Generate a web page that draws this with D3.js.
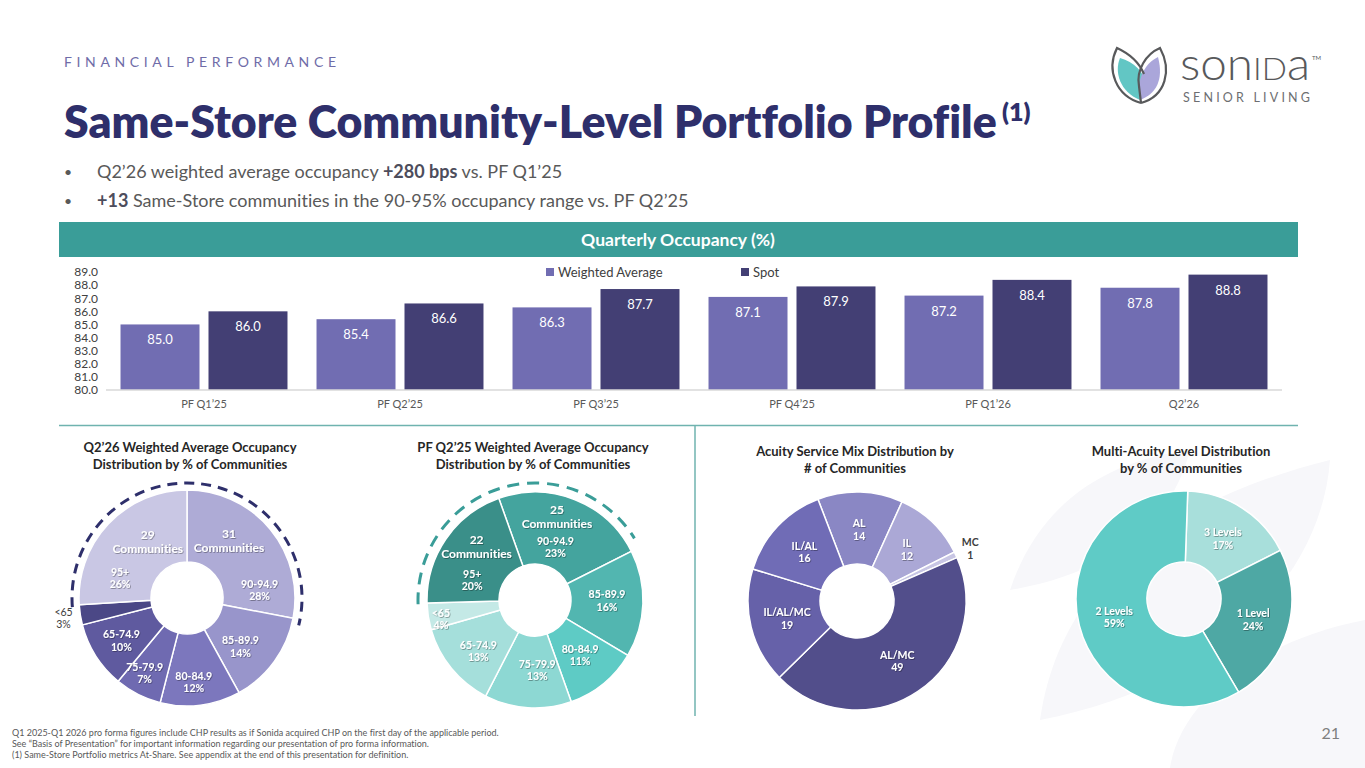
<!DOCTYPE html>
<html><head><meta charset="utf-8">
<script src="https://cdn.jsdelivr.net/npm/d3@7/dist/d3.min.js"></script>
<style>
body{margin:0;background:#fff;}
svg{display:block;font-family:Lato,"Open Sans",sans-serif;font-variant-ligatures:none;}
</style>
</head><body>
<svg id="c" width="1365" height="768"></svg>
<script>
// ---------------- DATA ----------------
const quarters = ["PF Q1’25","PF Q2’25","PF Q3’25","PF Q4’25","PF Q1’26","Q2’26"];
const seriesNames = ["Weighted Average","Spot"];
const weightedAvg = [85.0,85.4,86.3,87.1,87.2,87.8];
const spotOcc = [86.0,86.6,87.7,87.9,88.4,88.8];
const yTicks = [80,81,82,83,84,85,86,87,88,89];

const occRanges = ["90-94.9","85-89.9","80-84.9","75-79.9","65-74.9","<65","95+"];
const q226Pct = [28,14,12,7,10,3,26];
const q226Communities = {"90-94.9":31,"95+":29};
const pfq225Pct = [23,16,11,13,13,4,20];
const pfq225Communities = {"90-94.9":25,"95+":22};

const acuityTypes = ["AL","IL","MC","AL/MC","IL/AL/MC","IL/AL"];
const acuityCounts = [14,12,1,49,19,16];

const levelNames = ["3 Levels","1 Level","2 Levels"];
const levelPct = [17,24,59];

const footnotes = [
  "Q1 2025-Q1 2026 pro forma figures include CHP results as if Sonida acquired CHP on the first day of the applicable period.",
  "See “Basis of Presentation” for important information regarding our presentation of pro forma information.",
  "(1) Same-Store Portfolio metrics At-Share. See appendix at the end of this presentation for definition."
];

// ---------------- SETUP ----------------
const svg = d3.select("#c");
const NAVY = "#2e2f6b", TEAL = "#3a9d98";
const defs = svg.append("defs");
const f = defs.append("filter").attr("id","sh").attr("x","-20%").attr("y","-20%").attr("width","140%").attr("height","140%");
f.append("feDropShadow").attr("dx",0.7).attr("dy",0.7).attr("stdDeviation",0.5).attr("flood-color","#000").attr("flood-opacity",0.45);

// faint watermark leaves
const wm = svg.append("g").attr("fill","#f7f7fa");
wm.append("path").attr("d","M1040,720 C1060,580 1170,500 1330,460 C1320,590 1200,690 1040,720 Z");
wm.append("path").attr("d","M1170,768 C1180,700 1260,640 1365,620 L1365,768 Z");
wm.append("path").attr("d","M1010,590 C1040,500 1110,460 1190,450 C1170,530 1100,575 1010,590 Z");

// ---------------- HEADER ----------------
const kicker = svg.append("text").attr("x",64).attr("y",67).attr("fill","#6f6ca8")
  .style("font-size","14px").text("FINANCIAL PERFORMANCE");
{
  const n = kicker.text().length;
  const w0 = kicker.node().getComputedTextLength();
  kicker.style("letter-spacing", ((272 - w0)/(n-1)) + "px");
}
const title = svg.append("text").attr("x",64).attr("y",138).attr("fill",NAVY)
  .style("font-weight",800).style("font-size","44px").text("Same-Store Community-Level Portfolio Profile");
{
  const w = title.node().getComputedTextLength();
  title.style("font-size", (44*933/w) + "px");
}
svg.append("text").attr("x",1002).attr("y",121).attr("fill",NAVY).style("font-weight",800).style("font-size","25px").text("(1)");

const bullets = [
  [["Q2’26 weighted average occupancy ",false],["+280 bps",true],[" vs. PF Q1’25",false]],
  [["+13",true],[" Same-Store communities in the 90-95% occupancy range vs. PF Q2’25",false]]
];
bullets.forEach((parts,i)=>{
  const y = 178 + i*29;
  svg.append("text").attr("x",64).attr("y",y-1).attr("fill","#595959").style("font-size","14px").text("•");
  const t = svg.append("text").attr("x",97).attr("y",y).attr("fill","#595959").style("font-size","18px");
  parts.forEach(p=>t.append("tspan").text(p[0]).style("font-weight",p[1]?700:400).attr("fill",p[1]?"#4d4d5c":"#595959"));
});

// Logo
const logo = svg.append("g");
logo.append("path").attr("d","M1140,100 C1120,92 1114,72 1120,58 C1134,62 1144,72 1146,84 Z").attr("fill","#62c6c4");
logo.append("path").attr("d","M1140,100 C1136,80 1144,64 1158,57 C1164,80 1156,94 1140,100 Z").attr("fill","#aaa6da");
logo.append("path").attr("d","M1141,103 C1116,96 1106,70 1117,48 C1130,54 1139,62 1144,74").attr("fill","none").attr("stroke","#58595b").attr("stroke-width",2.2);
logo.append("path").attr("d","M1141,103 C1166,96 1172,70 1160,48 C1146,54 1136,70 1139,86 L1141,103").attr("fill","none").attr("stroke","#58595b").attr("stroke-width",2.2);
const lt = logo.append("text").attr("x",1180).attr("y",80).attr("fill","#58595b").style("font-weight",300).style("font-size","46px");
lt.append("tspan").text("son");
lt.append("tspan").text("ID").style("font-size","32px").style("font-weight",300);
lt.append("tspan").text("a");
{
  const w = lt.node().getComputedTextLength();
  lt.attr("transform",`translate(1180,0) scale(${130/w},1) translate(-1180,0)`);
}
logo.append("text").attr("x",1312).attr("y",60).attr("fill","#58595b").style("font-size","6px").text("TM");
const sl = logo.append("text").attr("x",1183).attr("y",102).attr("fill","#6d6e71").style("font-size","12.5px").text("SENIOR LIVING");
{
  const w0 = sl.node().getComputedTextLength();
  sl.style("letter-spacing", ((127 - w0)/12) + "px");
}

// ---------------- BANNER ----------------
svg.append("rect").attr("x",59).attr("y",222).attr("width",1239).attr("height",35).attr("fill",TEAL);
svg.append("text").attr("x",678).attr("y",246).attr("text-anchor","middle").attr("fill","#fff")
  .style("font-weight",700).style("font-size","17.5px").text("Quarterly Occupancy (%)");

// ---------------- BAR CHART ----------------
const x0 = d3.scaleBand().domain(quarters).range([106,1282]).padding(0);
const x1 = d3.scaleBand().domain(seriesNames).range([0,x0.bandwidth()]).paddingInner(0.1023).paddingOuter(0.165);
const y = d3.scaleLinear().domain([80,89]).range([390,272]);
const barColors = {"Weighted Average":"#716db2","Spot":"#433f74"};
const barData = quarters.map((q,i)=>({q, vals:[{s:"Weighted Average",v:weightedAvg[i]},{s:"Spot",v:spotOcc[i]}]}));

const yAxis = d3.axisLeft(y).tickValues(yTicks).tickFormat(d3.format(".1f")).tickSize(0).tickPadding(0);
const ya = svg.append("g").attr("transform","translate(98,0)").call(yAxis);
ya.select(".domain").remove();
ya.selectAll("text").attr("fill","#404040").style("font-size","11px").style("font-family","Lato,sans-serif")
  .attr("transform","scale(1.12,1.12)").attr("dy","0.3em")
  .each(function(){ const t=d3.select(this); const yy=+t.attr("y")||0; });
// keep tick text anchored at tick position despite scale
ya.selectAll(".tick text").attr("transform",null).style("font-size","12px").attr("dy","0.32em");

const groups = svg.append("g").selectAll("g").data(barData).join("g").attr("transform",d=>`translate(${x0(d.q)},0)`);
groups.selectAll("rect").data(d=>d.vals).join("rect")
  .attr("x",d=>x1(d.s)).attr("width",x1.bandwidth())
  .attr("y",d=>y(d.v)).attr("height",d=>y(80)-y(d.v)).attr("fill",d=>barColors[d.s]);
groups.selectAll("text").data(d=>d.vals).join("text")
  .attr("x",d=>x1(d.s)+x1.bandwidth()/2).attr("y",d=>y(d.v)+20).attr("text-anchor","middle")
  .attr("fill","#fff").style("font-size","13px").text(d=>d3.format(".1f")(d.v));

svg.append("line").attr("x1",106).attr("x2",1282).attr("y1",y(80)).attr("y2",y(80)).attr("stroke","#d9d9d9").attr("stroke-width",1.5);

const xAxis = d3.axisBottom(x0).tickSize(0).tickPadding(0);
const xa = svg.append("g").attr("transform",`translate(0,${y(80)+10})`).call(xAxis);
xa.select(".domain").remove();
xa.selectAll("text").attr("fill","#595959").style("font-size","11px").style("font-family","Lato,sans-serif");

// legend
const legX = [546,741];
seriesNames.forEach((s,i)=>{
  svg.append("rect").attr("x",legX[i]).attr("y",268).attr("width",8).attr("height",8).attr("fill",barColors[s]);
  svg.append("text").attr("x",legX[i]+12).attr("y",277).attr("fill","#404040").style("font-size","13px").text(s);
});

// separators
svg.append("line").attr("x1",59).attr("x2",1298).attr("y1",425.5).attr("y2",425.5).attr("stroke","#6fb3af").attr("stroke-width",1.5);
svg.append("line").attr("x1",695).attr("x2",695).attr("y1",425).attr("y2",716).attr("stroke","#6fb3af").attr("stroke-width",1.5);

// ---------------- DONUTS ----------------
const rad = d=>d*Math.PI/180;
function drawDonut(cfg){
  const g = svg.append("g").attr("transform",`translate(${cfg.cx},${cfg.cy})`);
  const items = cfg.names.map((n,i)=>({name:n,value:cfg.values[i],color:cfg.colors[i]}));
  const pie = d3.pie().sort(null).value(d=>d.value).startAngle(rad(cfg.start)).endAngle(rad(cfg.start)+2*Math.PI);
  const arcs = pie(items);
  const arc = d3.arc().innerRadius(cfg.inner).outerRadius(cfg.outer);
  g.selectAll("path.sl").data(arcs).join("path").attr("class","sl").attr("d",arc)
    .attr("fill",d=>d.data.color).attr("stroke","#fff").attr("stroke-width",1.5);

  const pos = (d,t,r)=>{const a=d.startAngle+t*(d.endAngle-d.startAngle);return [r*Math.sin(a),-r*Math.cos(a)];};

  arcs.forEach((d,i)=>{
    const isOut = cfg.outside.includes(d.data.name);
    const lp = cfg.labelPos ? cfg.labelPos[i] : [0.5,72];
    const [lx,ly] = isOut ? pos(d,0.5,125) : pos(d,lp[0],lp[1]);
    const t = g.append("text").attr("text-anchor","middle")
      .attr("fill",isOut?"#404040":"#fff").style("font-size","10.5px")
      .style("font-weight",(isOut && !cfg.outBold)?400:700);
    if(!isOut) t.attr("filter","url(#sh)");
    t.append("tspan").attr("x",lx).attr("y",ly-2).text(d.data.name);
    t.append("tspan").attr("x",lx).attr("y",ly+10.5).text(cfg.fmt(d.data.value));
    if(cfg.notes && cfg.notes[d.data.name]!==undefined){
      const np = cfg.notePos[d.data.name];
      const [nx,ny] = pos(d,np[0],np[1]);
      const nt = g.append("text").attr("text-anchor","middle").attr("fill","#fff")
        .style("font-size","12px").style("font-weight",700).attr("filter","url(#sh)");
      nt.append("tspan").attr("x",nx).attr("y",ny-2.5).text(cfg.notes[d.data.name]);
      nt.append("tspan").attr("x",nx).attr("y",ny+11.5).text("Communities");
    }
  });

  if(cfg.dash){
    const first = arcs.find(a=>a.data.name===cfg.dash.from);
    const last = arcs.find(a=>a.data.name===cfg.dash.to);
    let a0 = first.startAngle + rad(cfg.dash.ext[0]);
    let a1 = last.endAngle + rad(cfg.dash.ext[1]);
    while(a1 < a0) a1 += 2*Math.PI;
    const p = d3.path();
    p.arc(0,0,cfg.dash.r,a0-Math.PI/2,a1-Math.PI/2,false);
    g.append("path").attr("d",p.toString()).attr("fill","none").attr("stroke",cfg.dash.color)
      .attr("stroke-width",3).attr("stroke-dasharray",cfg.dash.pattern);
  }

  const tg = svg.append("text").attr("text-anchor","middle").attr("fill","#262626")
    .style("font-size","13px").style("font-weight",700);
  cfg.title.forEach((l,i)=>tg.append("tspan").attr("x",cfg.titleX).attr("y",cfg.titleY+i*17).text(l));
}

const pctFmt = v=>v+"%";

drawDonut({
  cx:187, cy:598, inner:36, outer:108, start:0,
  names:occRanges, values:q226Pct,
  colors:["#aeabd6","#9895cb","#7c77bd","#6f6ab1","#5f5a9f","#4b4886","#c9c7e4"],
  fmt:pctFmt, outside:["<65"], outBold:false,
  labelPos:[[0.83,73],[0.62,72],[0.56,84],[0.6,86],[0.49,78],[0.5,80],[0.22,70]],
  notes:q226Communities, notePos:{"90-94.9":[0.36,71],"95+":[0.63,69]},
  dash:{from:"95+",to:"90-94.9",ext:[-1,3],r:115,color:NAVY,pattern:"10,7"},
  title:["Q2’26 Weighted Average Occupancy","Distribution by % of Communities"], titleX:190, titleY:452
});

drawDonut({
  cx:535, cy:600, inner:36, outer:108, start:-19.6,
  names:occRanges, values:pfq225Pct,
  colors:["#44a49e","#52b6b0","#5ecbc5","#8dd8d3","#a5dfdb","#c4e9e6","#3a8f89"],
  fmt:pctFmt, outside:[], outBold:false,
  labelPos:[[0.49,57],[0.47,72],[0.5,71],[0.38,70],[0.45,76],[0.32,96],[0.27,66]],
  notes:pfq225Communities, notePos:{"90-94.9":[0.415,86],"95+":[0.61,79]},
  dash:{from:"95+",to:"90-94.9",ext:[-0.5,-5],r:117,color:TEAL,pattern:"12,8"},
  title:["PF Q2’25 Weighted Average Occupancy","Distribution by % of Communities"], titleX:533, titleY:452
});

drawDonut({
  cx:857, cy:601, inner:37, outer:109, start:-21,
  names:acuityTypes, values:acuityCounts,
  colors:["#8a87c4","#aba8d6","#c8c6e4","#524e8b","#6661a9","#706cb6"],
  fmt:v=>String(v), outside:["MC"], outBold:true,
  labelPos:null, notes:null,
  title:["Acuity Service Mix Distribution by","# of Communities"], titleX:855, titleY:456
});

drawDonut({
  cx:1184, cy:599, inner:37, outer:108, start:2,
  names:levelNames, values:levelPct,
  colors:["#a8dfdb","#4ea8a4","#5fcbc6"],
  fmt:pctFmt, outside:[], outBold:false,
  labelPos:null, notes:null,
  title:["Multi-Acuity Level Distribution","by % of Communities"], titleX:1181, titleY:456
});

// ---------------- FOOTER ----------------
footnotes.forEach((t,i)=>svg.append("text").attr("x",12).attr("y",736+i*11).attr("fill","#595959").style("font-size","9px").text(t));
svg.append("text").attr("x",1340).attr("y",739).attr("text-anchor","end").attr("fill","#7f7f7f").style("font-size","16px").text("21");
</script>
</body></html>
